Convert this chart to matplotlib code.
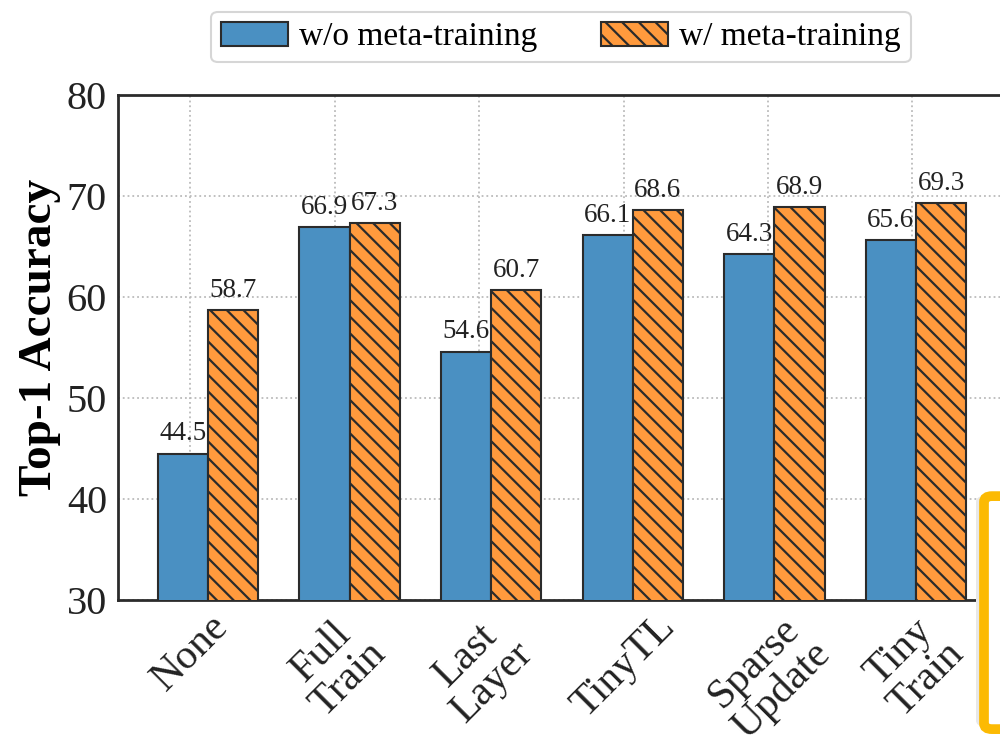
import numpy as np
import matplotlib
matplotlib.use("Agg")
import matplotlib.pyplot as plt
from matplotlib.patches import FancyBboxPatch

# accuracy of each fine-tuning method with / without meta-training
methods = ["None", "Full\nTrain", "Last\nLayer", "TinyTL", "Sparse\nUpdate", "Tiny\nTrain"]
acc_wo_meta = [44.5, 66.9, 54.6, 66.1, 64.3, 65.6]
acc_w_meta = [58.7, 67.3, 60.7, 68.6, 68.9, 69.3]
yticks = [30, 40, 50, 60, 70, 80]

plt.rcParams['font.family'] = ['Liberation Serif', 'DejaVu Serif']
plt.rcParams['hatch.linewidth'] = 1.6
plt.rcParams['hatch.color'] = '#111111'

blue = '#4a90c2'
orange = '#ff9a3d'
edge = '#2b2b2b'

fig = plt.figure(figsize=(10, 7.35), dpi=100)
ax = fig.add_axes([0.118, 0.1837, 0.89, 0.687])

x = np.arange(len(methods))
w = 0.355
b1 = ax.bar(x - w / 2, acc_wo_meta, w, color=blue, edgecolor=edge, linewidth=1.5,
            label='w/o meta-training', zorder=3)
b2 = ax.bar(x + w / 2, acc_w_meta, w, color=orange, edgecolor=edge, linewidth=1.5,
            hatch='\\\\', label='w/ meta-training', zorder=3)

for bars in (b1, b2):
    for r in bars:
        ax.text(r.get_x() + r.get_width() / 2, r.get_height() + 0.7, f"{r.get_height():.1f}",
                ha='center', va='bottom', fontsize=19.5, color='#222222', zorder=4)

ax.set_ylim(30, 80)
ax.set_xlim(-0.636, 5.65)
ax.set_yticks(yticks)
# category ticks sit slightly left of each bar pair
ax.set_xticks(x * 1.02 - 0.125)
ax.set_xticklabels(methods, rotation=45, ha='center', va='top', linespacing=1.0,
                   fontsize=30)
ax.tick_params(axis='both', length=0, colors='#222222')
ax.tick_params(axis='y', labelsize=29, pad=8)
ax.tick_params(axis='x', pad=5)
ax.set_ylabel('Top-1 Accuracy', fontsize=34, fontweight='bold')
ax.yaxis.set_label_coords(-0.064, 0.52)

ax.grid(True, linestyle=':', color='#bbbbbb', linewidth=1.3)
ax.set_axisbelow(True)
for s in ax.spines.values():
    s.set_color('#2b2b2b')
    s.set_linewidth(2)

leg = fig.legend(loc='upper center', bbox_to_anchor=(0.561, 0.993), ncol=2,
                 fontsize=24, frameon=True, fancybox=True, edgecolor='#cccccc',
                 handlelength=2.0, handleheight=0.72, columnspacing=1.9,
                 borderpad=0.3, handletextpad=0.35, borderaxespad=0.2)
leg.get_frame().set_linewidth(1.5)

# highlight box on the right edge
shadow = FancyBboxPatch((0.976, 0.012), 0.08, 0.313, boxstyle='round,pad=0,rounding_size=0.008',
                        transform=fig.transFigure, facecolor='#e8e8e8', edgecolor='none',
                        zorder=9, clip_on=False)
box = FancyBboxPatch((0.984, 0.008), 0.08, 0.317, boxstyle='round,pad=0,rounding_size=0.008',
                     transform=fig.transFigure, facecolor='white', edgecolor='#fcba03',
                     linewidth=7, zorder=10, clip_on=False)
fig.add_artist(shadow)
fig.add_artist(box)

fig.savefig('out.png', dpi=100)
